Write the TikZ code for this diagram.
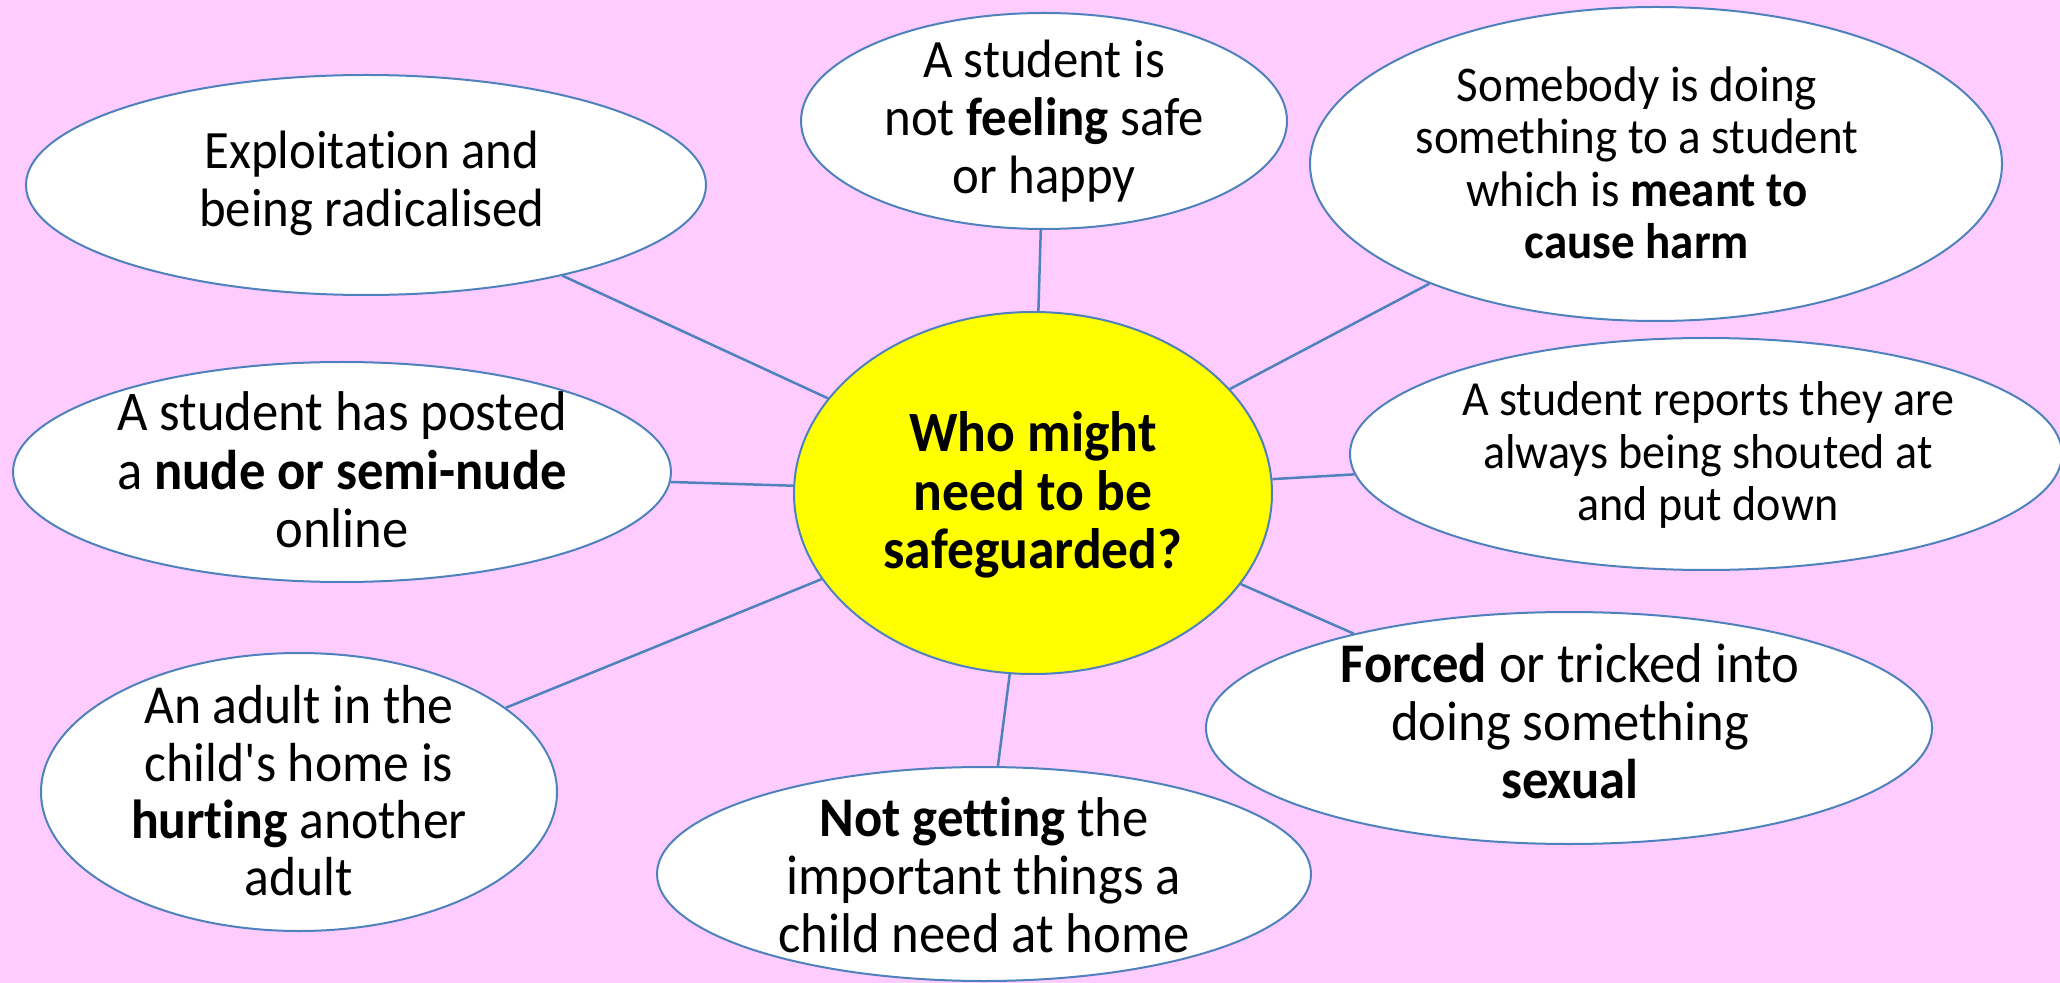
\documentclass[tikz,border=0pt]{standalone}
\usepackage{fontspec}
\setmainfont{Carlito}[FakeStretch=0.94, Ligatures={NoCommon,TeXOff}]
\usetikzlibrary{shapes.geometric}
\definecolor{bgpink}{HTML}{FFCCFF}
\definecolor{edgeblue}{HTML}{4F81BD}
\definecolor{hubyellow}{HTML}{FFFF00}
\newcommand\hl[1]{\textbf{#1}}
\begin{document}
\begin{tikzpicture}[x=0.5pt,y=-0.5pt,
  bubble/.style 2 args={ellipse, draw=edgeblue, line width=1pt, fill=white,
    minimum width=#1pt, minimum height=#2pt, inner sep=0pt},
  txt/.style 2 args={font=\fontsize{#1pt}{#2pt}\selectfont, align=center,
    inner sep=0pt, text=black},
  link/.style={draw=edgeblue, line width=1.25pt}]
\fill[bgpink] (0,0) rectangle (2060,983);
\useasboundingbox (0,0) rectangle (2060,983);
% bubbles
\node[bubble={340}{110}] (ex) at (366,185) {};
\node[bubble={243}{108}] (top) at (1044,121) {};
\node[bubble={346}{157}] (tr) at (1656,164) {};
\node[bubble={356}{116}] (rt) at (1706,454) {};
\node[bubble={329}{110}] (lf) at (342,472) {};
\node[bubble={258}{139}] (bl) at (299,792) {};
\node[bubble={327}{107}] (bt) at (984,874) {};
\node[bubble={363}{116}] (br) at (1569,728) {};
\node[bubble={239}{181}, fill=hubyellow] (hub) at (1033,493) {};
% connectors
\draw[link] (hub) -- (ex);
\draw[link] (hub) -- (top);
\draw[link] (hub) -- (tr);
\draw[link] (hub) -- (rt);
\draw[link] (hub) -- (lf);
\draw[link] (hub) -- (bl);
\draw[link] (hub) -- (bt);
\draw[link] (hub) -- (br);
% texts
\node[txt={27}{29}] (ex-t) at (372,183) {Exploitation and\\being radicalised};
\node[txt={27}{29}] (top-t) at (1044,121) {A student is\\not \hl{feeling} safe\\or happy};
\node[txt={25}{26.25}] (tr-t) at (1637,163) {Somebody is doing\\something to a student\\which is \hl{meant to}\\\hl{cause harm}};
\node[txt={24.5}{26.25}] (rt-t) at (1708,455) {A student reports they are\\always being shouted at\\and put down};
\node[txt={28}{29.25}] (lf-t) at (342,470) {A student has posted\\a \hl{nude or semi-nude}\\online};
\node[txt={27.5}{28.7}] (bl-t) at (299,791) {An adult in the\\child's home is\\\hl{hurting} another\\adult};
\node[txt={28}{28.9}] (bt-t) at (984,875) {\hl{Not getting} the\\important things a\\child need at home};
\node[txt={28}{29.2}] (br-t) at (1570,721) {\hl{Forced} or tricked into\\doing something\\\hl{sexual}};
\node[txt={28.5}{29.25}, font=\bfseries\fontsize{28.5pt}{29.25pt}\selectfont] (hub-t) at (1033,495) {Who might\\need to be\\safeguarded?};
\end{tikzpicture}
\end{document}
